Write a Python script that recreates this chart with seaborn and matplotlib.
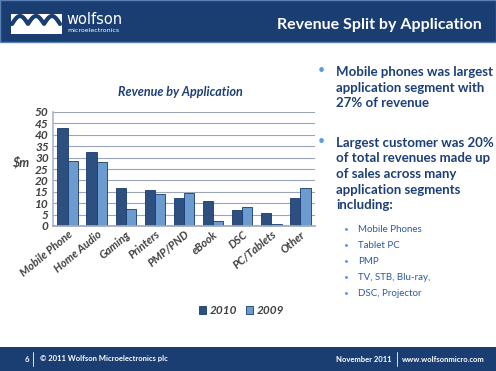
import numpy as np
import pandas as pd
import seaborn as sns
import matplotlib.pyplot as plt
from matplotlib.patches import Rectangle

W, H = 496, 371

categories = ['Mobile Phone', 'Home Audio', 'Gaming', 'Printers', 'PMP/PND',
              'eBook', 'DSC', 'PC/Tablets', 'Other']
rev_2010 = [43, 32.5, 16.5, 16, 12.3, 11, 7.2, 5.8, 12.4]
rev_2009 = [28.5, 28, 7.3, 14, 14.5, 2.2, 8.2, 1, 16.7]
years = ['2010', '2009']
y_ticks = list(range(0, 55, 5))

bullets = ['Mobile phones was largest\napplication segment with\n27% of revenue',
           'Largest customer was 20%\nof total revenues made up\nof sales across many\napplication segments\nincluding:']
sub_bullets = ['Mobile Phones', 'Tablet PC', 'PMP', 'TV, STB, Blu-ray,', 'DSC, Projector']

NAVY = '#1b3e72'
TEXT_BLUE = '#1c3f78'
C2010 = '#1f4e8f'
C2009 = '#5b9be0'


def px(x, y):
    return x / W, 1 - y / H


def build_frame():
    df = pd.DataFrame({'category': categories * 2,
                       'year': [years[0]] * len(categories) + [years[1]] * len(categories),
                       'revenue': rev_2010 + rev_2009})
    return df


sns.set_theme(style='white')
plt.rcParams['font.family'] = ['Lato', 'DejaVu Sans']

fig = plt.figure(figsize=(W / 100, H / 100), dpi=100)
fig.patch.set_facecolor('white')

# header and footer bands
fig.patches.append(Rectangle((0, 1 - 42 / H), 1, 42 / H, transform=fig.transFigure,
                             facecolor=NAVY, edgecolor='#5a7fb5', lw=1))
fig.patches.append(Rectangle((0, 0), 1, 24 / H, transform=fig.transFigure,
                             facecolor=NAVY, edgecolor='none'))

# logo
fig.patches.append(Rectangle(px(11, 34), 51 / W, 20 / H, transform=fig.transFigure,
                             facecolor='white', edgecolor='none'))
lx = np.linspace(12, 60, 200)
ly = 24 - 8 * np.abs(np.sin((lx - 12) / 48 * 3 * np.pi))
fig.lines.append(plt.Line2D(lx / W, 1 - ly / H, transform=fig.transFigure,
                            color=NAVY, lw=3))
fig.text(*px(66, 20), 'wolfson', color='white', fontsize=10.5, ha='left', va='center',
         family='DejaVu Sans')
fig.text(*px(67, 31), 'microelectronics', color='white', fontsize=4.5, ha='left', va='center',
         family='DejaVu Sans')
fig.text(*px(482, 25), 'Revenue Split by Application', color='white', fontsize=11.5,
         fontweight='bold', ha='right', va='center')

# footer text
fig.text(*px(25, 359), '6', color='white', fontsize=5.5, fontweight='bold', va='center')
fig.text(*px(40, 359), '© 2011 Wolfson Microelectronics plc', color='white', fontsize=5.5,
         fontweight='bold', va='center')
fig.text(*px(392, 359), 'November 2011', color='white', fontsize=5.5, fontweight='bold',
         va='center', ha='right')
fig.text(*px(402, 359), 'www.wolfsonmicro.com', color='white', fontsize=5.5,
         fontweight='bold', va='center')
fig.lines.append(plt.Line2D([33 / W, 33 / W], [1 - 352 / H, 1 - 366 / H],
                            transform=fig.transFigure, color='white', lw=0.6))
fig.lines.append(plt.Line2D([397 / W, 397 / W], [1 - 352 / H, 1 - 366 / H],
                            transform=fig.transFigure, color='white', lw=0.6))

# chart
ax = fig.add_axes([53 / W, 1 - 226 / H, 262 / W, 114 / H])
df = build_frame()
sns.barplot(data=df, x='category', y='revenue', hue='year', hue_order=years,
            palette={years[0]: C2010, years[1]: C2009}, width=0.7,
            edgecolor='#163a6e', linewidth=0.6, ax=ax)
ax.set_ylim(0, 50)
ax.set_yticks(y_ticks)
ax.yaxis.grid(True, color='#9aa5b8', lw=0.8)
ax.set_axisbelow(True)
for s in ['top', 'right']:
    ax.spines[s].set_visible(False)
ax.spines['left'].set_color('#b0b8c8')
ax.spines['bottom'].set_color('#a0a8b8')
ax.set_xlabel('')
ax.set_ylabel('$m', rotation=0, fontsize=9, fontstyle='italic', fontweight='bold',
              color='#404040', labelpad=6)
ax.yaxis.set_label_coords(-0.12, 0.5)
ax.tick_params(axis='y', length=0, pad=3, labelsize=8.5, labelcolor='#404040')
ax.tick_params(axis='x', length=0, pad=2, labelsize=8, labelcolor='#404040')
for lab in ax.get_yticklabels():
    lab.set_fontstyle('italic')
    lab.set_fontweight('bold')
ax.set_xticks(range(len(categories)))
ax.set_xticklabels(categories, rotation=40, ha='right', rotation_mode='anchor',
                   fontstyle='italic', fontweight='bold')
ax.legend(loc='upper center', bbox_to_anchor=(0.72, -0.6), ncol=2, frameon=False,
          prop={'size': 8.5, 'style': 'italic', 'weight': 'bold'}, handlelength=0.6,
          handleheight=0.6, handletextpad=0.3, columnspacing=0.8, labelcolor='#404040')

fig.text(*px(180, 92), 'Revenue by Application', color=TEXT_BLUE, fontsize=9,
         fontstyle='italic', fontweight='bold', ha='center', va='center')

# right-hand bullets
fig.text(*px(318, 70), '•', color='#5b9be0', fontsize=9, va='center')
fig.text(*px(336, 66), bullets[0], color=TEXT_BLUE, fontsize=9.5, fontweight='bold',
         va='top', linespacing=1.35)
fig.text(*px(318, 141), '•', color='#5b9be0', fontsize=9, va='center')
fig.text(*px(336, 137), bullets[1], color=TEXT_BLUE, fontsize=9.5, fontweight='bold',
         va='top', linespacing=1.35)
for i, t in enumerate(sub_bullets):
    y = 229 + i * 16
    fig.text(*px(343, y), '•', color='#5b9be0', fontsize=6, va='center')
    fig.text(*px(358, y), t, color='#2b5aa0', fontsize=7, va='center')

fig.savefig('out.png', dpi=100)
